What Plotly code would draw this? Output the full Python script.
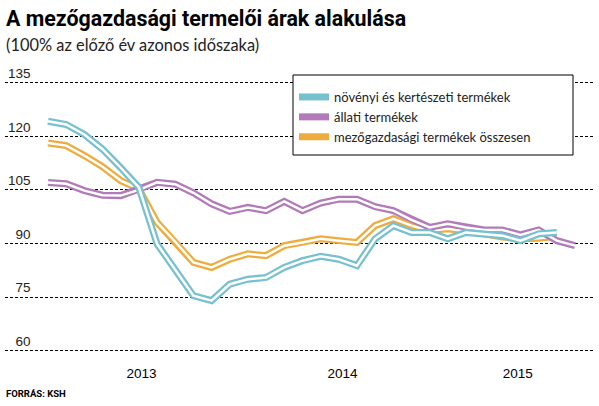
import plotly.graph_objects as go

# monthly index, 2013 - 2015
months = list(range(30))

# növényi és kertészeti termékek
novenyi = [124.2, 123.3, 120.5, 116.4, 111.2, 105.7, 89.9, 82.5, 75.4, 74.0,
           78.6, 80.0, 80.5, 83.3, 85.2, 86.4, 85.6, 83.8, 91.3, 95.0,
           93.1, 93.1, 91.3, 93.1, 92.7, 92.2, 90.8, 92.7, 93.1]
# állati termékek
allati = [107.1, 106.7, 104.8, 103.5, 103.4, 105.0, 107.1, 106.6, 104.2, 101.1,
          99.0, 100.1, 99.2, 101.8, 99.2, 101.3, 102.4, 102.4, 100.3, 99.2,
          96.6, 94.5, 95.5, 94.5, 93.8, 93.8, 92.4, 93.8, 90.8, 89.4]
# mezőgazdasági termékek összesen
osszesen = [118.1, 117.4, 114.6, 111.5, 107.6, 105.3, 95.9, 90.5, 84.7, 83.3,
            85.6, 87.1, 86.6, 89.4, 90.3, 91.3, 90.8, 90.3, 95.0, 96.9,
            95.0, 93.6, 94.1, 93.5, 92.7, 91.8, 91.3, 91.5, 92.0]

year_labels = ["2013", "2014", "2015"]
year_pos = [5.15, 16.21, 25.85]
y_ticks = [60, 75, 90, 105, 120, 135]
y_text = ["\u200760", "\u200775", "\u200790", "105", "120", "135"]

series = [
    ("mezőgazdasági termékek összesen", osszesen, "#EFAC3E", 3),
    ("állati termékek", allati, "#B27AB8", 2),
    ("növényi és kertészeti termékek", novenyi, "#77C1CF", 1),
]

BOLD = "Roboto, Liberation Sans, sans-serif"
TEXT = "Lato, Open Sans, sans-serif"
NUM = "Liberation Sans, Arial, sans-serif"

# plot area in page pixels: x 5..595, y 60..358
def px(X):
    return (X - 5) / 590


def py(Y):
    return (358 - Y) / 298


fig = go.Figure()
for name, vals, color, rank in series:
    x = months[:len(vals)]
    fig.add_trace(go.Scatter(
        x=x, y=vals, mode="lines", name=name, legendrank=rank,
        line=dict(color=color, width=7),
        hoverinfo="skip",
    ))
    fig.add_trace(go.Scatter(
        x=x, y=vals, mode="lines", showlegend=False,
        line=dict(color="white", width=2.5),
        hoverinfo="skip",
    ))

fig.update_layout(
    width=599, height=406,
    margin=dict(l=5, r=4, t=60, b=48),
    paper_bgcolor="white", plot_bgcolor="white",
    showlegend=True,
    legend=dict(
        x=px(294), y=py(82), xanchor="left", yanchor="top",
        bgcolor="rgba(0,0,0,0)", borderwidth=0,
        font=dict(family=TEXT, size=13, color="#222"),
        traceorder="normal",
    ),
    shapes=[dict(
        type="rect", xref="paper", yref="paper",
        x0=px(293), x1=px(573), y0=py(155), y1=py(75),
        line=dict(color="black", width=1), fillcolor="white", layer="above",
    )],
    annotations=[
        dict(text="<b>A mezőgazdasági termelői árak alakulása</b>",
             xref="paper", yref="paper", x=px(4), y=py(18),
             xanchor="left", yanchor="middle", showarrow=False,
             font=dict(family=BOLD, size=21.4, color="black")),
        dict(text="(100% az előző év azonos időszaka)",
             xref="paper", yref="paper", x=px(4), y=py(45),
             xanchor="left", yanchor="middle", showarrow=False,
             font=dict(family=TEXT, size=16.4, color="#222")),
        dict(text="<b>FORRÁS: KSH</b>",
             xref="paper", yref="paper", x=px(4), y=py(393),
             xanchor="left", yanchor="middle", showarrow=False,
             font=dict(family=BOLD, size=9.5, color="black")),
    ],
)

fig.update_xaxes(
    range=[-2.367, 30.1], showgrid=False, zeroline=False, showline=False,
    tickvals=year_pos, ticktext=year_labels, ticks="",
    ticklabelstandoff=5,
    tickfont=dict(family=NUM, size=13.5, color="black"),
)
fig.update_yaxes(
    range=[57.96, 141.35], tickvals=y_ticks, ticktext=y_text,
    showgrid=True, gridcolor="black", gridwidth=1, griddash="3px,2px",
    zeroline=False, showline=False, ticks="",
    ticklabelposition="inside top",
    tickfont=dict(family=NUM, size=13.5, color="#222"),
)

fig.write_html("out.html", config={"displayModeBar": False},
               post_script="document.body.style.margin='0';")
